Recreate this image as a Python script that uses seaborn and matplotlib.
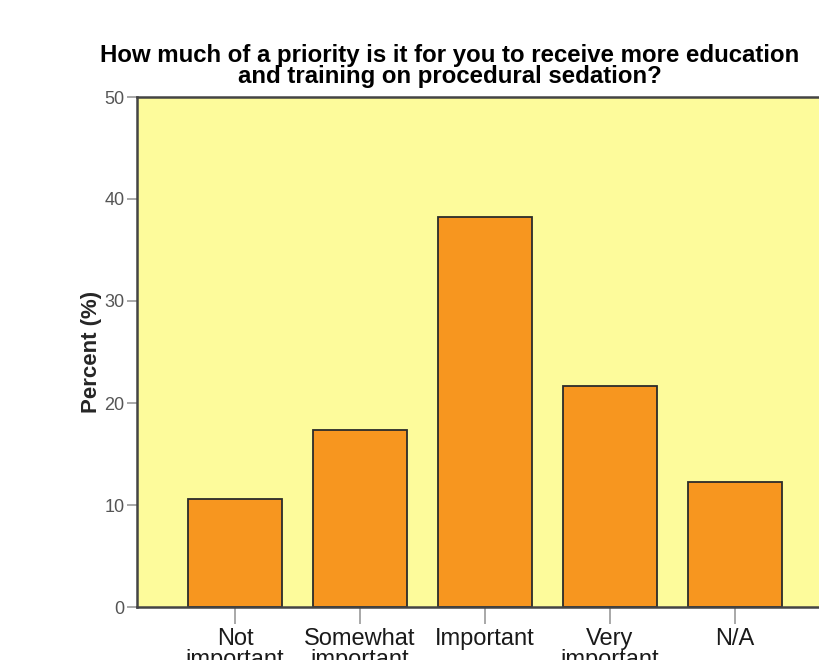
import pandas as pd
import seaborn as sns
import matplotlib
matplotlib.use("Agg")
import matplotlib.pyplot as plt

categories = ["Not\nimportant", "Somewhat\nimportant", "Important", "Very\nimportant", "N/A"]
percent = [10.6, 17.4, 38.2, 21.7, 12.3]

df = pd.DataFrame({"answer": categories, "pct": percent})

sns.set_style("white")
plt.rcParams["font.family"] = ["Liberation Sans", "DejaVu Sans"]

fig = plt.figure(figsize=(8.19, 6.6), dpi=100)
ax = fig.add_axes([137 / 819, 53 / 660, 696 / 819, 510 / 660])
ax.set_facecolor("#FDFB9B")

sns.barplot(data=df, x="answer", y="pct", color="#F7961F", edgecolor="#2b2b2b",
            linewidth=1.3, width=0.75, saturation=1, ax=ax)

ax.set_xlim(-0.784, 4.784)
ax.set_ylim(0, 50)
ax.set_yticks([0, 10, 20, 30, 40, 50])
ax.set_xlabel("")
ax.set_ylabel("Percent (%)", fontsize=16, fontweight="bold", labelpad=2)

for s in ax.spines.values():
    s.set_color("#444444")
    s.set_linewidth(1.8)

ax.tick_params(axis="y", direction="out", length=7, width=1.2, color="#999999",
               labelsize=13, labelcolor="#555555", left=True, pad=2)
ax.tick_params(axis="x", direction="out", length=12, width=1.2, color="#999999",
               labelsize=17, labelcolor="#1a1a1a", bottom=True, pad=3)
for lbl in ax.get_xticklabels():
    lbl.set_linespacing(0.95)

fig.text(450 / 819, 1 - 66 / 660,
         "How much of a priority is it for you to receive more education\nand training on procedural sedation?",
         ha="center", va="center", fontsize=17.3, fontweight="bold", linespacing=0.9,
         color="black")

fig.savefig("out.png", dpi=100)
